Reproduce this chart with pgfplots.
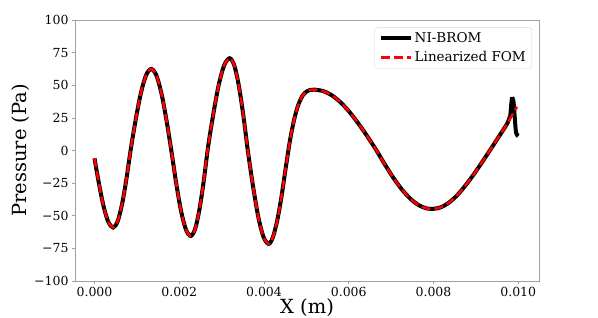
\documentclass[border=0pt]{standalone}
\usepackage{fontspec}
\setmainfont{DejaVu Serif}
\usepackage{pgfplots}
\pgfplotsset{compat=1.18}
\definecolor{spinegray}{RGB}{160,160,160}
\definecolor{legendgray}{RGB}{215,215,215}
\definecolor{fomred}{RGB}{255,0,0}
\begin{document}
\begin{tikzpicture}
\begin{axis}[
  scale only axis,
  width=464pt, height=261pt,
  xmin=-0.00046, xmax=0.01049,
  ymin=-100, ymax=100,
  xtick={0,0.002,0.004,0.006,0.008,0.010},
  xticklabels={0.000,0.002,0.004,0.006,0.008,0.010},
  ytick={-100,-75,-50,-25,0,25,50,75,100},
  yticklabels={−100,−75,−50,−25,0,25,50,75,100},
  scaled x ticks=false,
  tick label style={font=\fontsize{12.5}{14}\selectfont},
  tick align=outside,
  major tick length=3pt,
  tick style={spinegray, line width=0.6pt},
  axis line style={spinegray, line width=0.8pt},
  xtick pos=bottom, ytick pos=left,
  xlabel={X (m)}, ylabel={Pressure (Pa)},
  label style={font=\fontsize{19.5}{22}\selectfont, inner sep=1pt},
  xlabel style={yshift=3pt},
  legend cell align=left,
  legend image code/.code={\draw[#1] (0pt,0pt) -- (30pt,0pt);},
  legend style={at={(1,1)}, anchor=north east, xshift=-7pt, yshift=-7.5pt,
    draw=legendgray, rounded corners=2.5pt, fill=white,
    font=\fontsize{13.5}{16}\selectfont, inner xsep=4pt, inner ysep=3pt,
    row sep=3.5pt, /tikz/every even column/.append style={column sep=6pt}},
]
\addplot[black, line width=4pt, smooth] coordinates {
(0,-6) (0.00011,-26.2) (0.00022,-43.5) (0.00033,-55) (0.00044,-59)
(0.000545,-54.4) (0.00065,-41.2) (0.000755,-21.5) (0.00086,1.75)
(0.00098,25.0) (0.0011,44.7) (0.00122,57.9) (0.00134,62.5)
(0.00146,57.6) (0.00158,43.7) (0.0017,23.0) (0.00182,-1.5)
(0.001933,-26.0) (0.002045,-46.7) (0.002158,-60.6) (0.00227,-65.5)
(0.002373,-60.3) (0.002475,-45.5) (0.002578,-23.5) (0.00268,2.6)
(0.002808,28.7) (0.002935,50.7) (0.003063,65.5) (0.00319,70.7)
(0.003298,65.3) (0.003405,49.9) (0.003513,26.8) (0.00362,-0.45)
(0.003743,-27.7) (0.003865,-50.8) (0.003988,-66.2) (0.00411,-71.6)
(0.00421,-66.5) (0.00431,-54.0) (0.00441,-36.0) (0.00451,-14.0)
(0.00461,7.0) (0.00471,23.5) (0.00481,35.0) (0.00491,42.0)
(0.00501,45.3) (0.00511,46.5) (0.0052,46.6)
(0.0054,45.5) (0.0056,42.3) (0.0058,37.1) (0.006,30.2) (0.0062,21.9)
(0.0064,12.7) (0.00664,0.8)
(0.00684,-10.0) (0.00704,-20.3) (0.00724,-29.3) (0.00744,-36.5)
(0.00764,-41.7) (0.00784,-44.4) (0.00795,-44.8)
(0.00815,-43.8) (0.00835,-40.3) (0.00855,-34.6) (0.00875,-27.0)
(0.00895,-18.3) (0.00915,-8.8) (0.00935,1.0) (0.00955,11.0) (0.00975,21.2)
(0.00981,26.5) (0.00985,39.5) (0.00989,37) (0.00992,24) (0.00995,13.5) (0.01000,11)
};
\addlegendentry{NI-BROM}
\addplot[fomred, line width=2.5pt, dash pattern=on 9pt off 4pt, smooth] coordinates {
(0,-6) (0.00011,-26.2) (0.00022,-43.5) (0.00033,-55) (0.00044,-59)
(0.000545,-54.4) (0.00065,-41.2) (0.000755,-21.5) (0.00086,1.75)
(0.00098,25.0) (0.0011,44.7) (0.00122,57.9) (0.00134,62.5)
(0.00146,57.6) (0.00158,43.7) (0.0017,23.0) (0.00182,-1.5)
(0.001933,-26.0) (0.002045,-46.7) (0.002158,-60.6) (0.00227,-65.5)
(0.002373,-60.3) (0.002475,-45.5) (0.002578,-23.5) (0.00268,2.6)
(0.002808,28.7) (0.002935,50.7) (0.003063,65.5) (0.00319,70.7)
(0.003298,65.3) (0.003405,49.9) (0.003513,26.8) (0.00362,-0.45)
(0.003743,-27.7) (0.003865,-50.8) (0.003988,-66.2) (0.00411,-71.6)
(0.00421,-66.5) (0.00431,-54.0) (0.00441,-36.0) (0.00451,-14.0)
(0.00461,7.0) (0.00471,23.5) (0.00481,35.0) (0.00491,42.0)
(0.00501,45.3) (0.00511,46.5) (0.0052,46.6)
(0.0054,45.5) (0.0056,42.3) (0.0058,37.1) (0.006,30.2) (0.0062,21.9)
(0.0064,12.7) (0.00664,0.8)
(0.00684,-10.0) (0.00704,-20.3) (0.00724,-29.3) (0.00744,-36.5)
(0.00764,-41.7) (0.00784,-44.4) (0.00795,-44.8)
(0.00815,-43.8) (0.00835,-40.3) (0.00855,-34.6) (0.00875,-27.0)
(0.00895,-18.3) (0.00915,-8.8) (0.00935,1.0) (0.00955,11.0) (0.00975,21.2)
(0.00997,33.5)
};
\addlegendentry{Linearized FOM}
\end{axis}
\pgfresetboundingbox
\path[use as bounding box] (current axis.south west) ++(-75pt,-37pt) rectangle ++(598pt,318pt);
\end{tikzpicture}
\end{document}
